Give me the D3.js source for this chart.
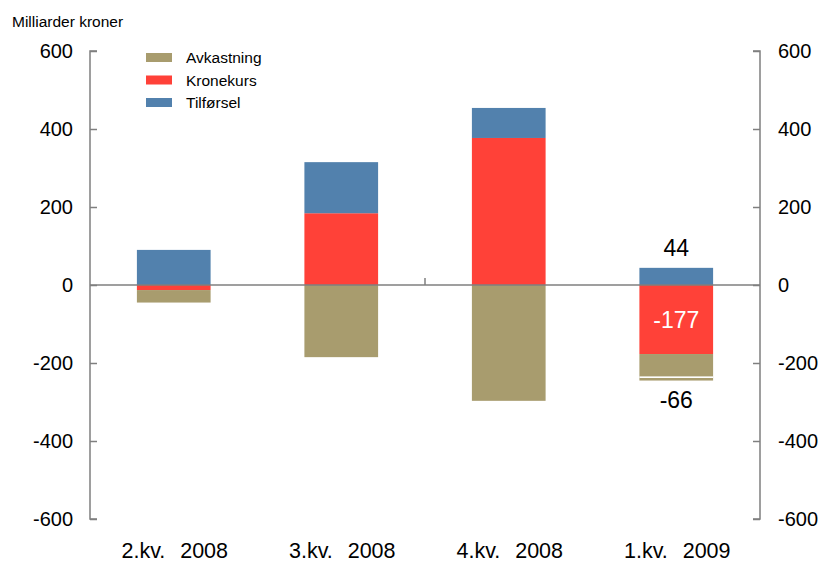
<!DOCTYPE html>
<html><head><meta charset="utf-8">
<script src="https://cdn.jsdelivr.net/npm/d3@7"></script>
<style>body{margin:0;background:#fff}svg{display:block;font-family:"Liberation Sans",Arial,sans-serif}</style>
</head><body><svg id="c" width="826" height="563"></svg>
<script>
const categories = ["2.kv.  2008","3.kv.  2008","4.kv.  2008","1.kv.  2009"];
const avkastning = [-32,-185,-297,-58];
const avkastningRest = [0,0,0,-10];
const kronekurs = [-13,184,377,-177];
const tilforsel = [90,131,77,44];
const yTicks = [-600,-400,-200,0,200,400,600];
const barLabels = [{cat:3, text:"44", pos:"top"},{cat:3,text:"-177",pos:"mid"},{cat:3,text:"-66",pos:"bottom"}];
const legendItems = ["Avkastning","Kronekurs","Tilførsel"];
const colors = {Avkastning:"#a89c6e", Kronekurs:"#ff4138", "Tilførsel":"#5281ad"};

const svg = d3.select("#c");
const L = 90, R = 760, T = 51, B = 519;
const x = d3.scaleBand().domain(categories).range([L,R]).paddingInner(0.56).paddingOuter(0.28);
const y = d3.scaleLinear().domain([-600,600]).range([B,T]);

const segs = [];
categories.forEach((c,i)=>{
  let pos = 0, neg = 0;
  const order = [["Kronekurs",kronekurs[i]],["Tilførsel",tilforsel[i]],["Avkastning",avkastning[i]],["Avkastning",avkastningRest[i]]];
  order.forEach(([k,v],j)=>{
    if(v===0) return;
    let y0,y1;
    if(v>0){y0=pos;y1=pos+v;pos=y1;} else {y0=neg;y1=neg+v;neg=y1;}
    segs.push({c,k,y0,y1,rest:j===3});
  });
});

svg.append("g").selectAll("rect").data(segs).join("rect")
  .attr("x",d=>x(d.c)).attr("width",x.bandwidth())
  .attr("y",d=>y(Math.max(d.y0,d.y1))).attr("height",d=>Math.abs(y(d.y0)-y(d.y1)))
  .attr("fill",d=>colors[d.k]);
svg.append("g").selectAll("line").data(segs.filter(d=>d.rest)).join("line")
  .attr("x1",d=>x(d.c)).attr("x2",d=>x(d.c)+x.bandwidth())
  .attr("y1",d=>y(d.y0)+0.6).attr("y2",d=>y(d.y0)+0.6)
  .attr("stroke","#fff").attr("stroke-width",1.3);

const axisColor = "#7f7f7f";
const la = svg.append("g").attr("transform",`translate(${L},0)`)
  .call(d3.axisRight(y).tickValues(yTicks).tickSize(7).tickFormat(""));
const ra = svg.append("g").attr("transform",`translate(${R},0)`)
  .call(d3.axisLeft(y).tickValues(yTicks).tickSize(7).tickFormat(""));
[la,ra].forEach(g=>{g.select(".domain").attr("stroke",axisColor).attr("stroke-width",1.5).attr("d",`M${g===la?7:-7},${T}H0V${B}H${g===la?7:-7}`);
  g.selectAll(".tick line").attr("stroke",axisColor).attr("stroke-width",1.5);});
svg.append("g").selectAll("text").data(yTicks).join("text")
  .attr("x",73).attr("y",d=>y(d)).attr("dy","0.36em").attr("text-anchor","end")
  .attr("font-size",20).attr("fill","#000").text(d=>d);
svg.append("g").selectAll("text").data(yTicks).join("text")
  .attr("x",778).attr("y",d=>y(d)).attr("dy","0.36em").attr("text-anchor","start")
  .attr("font-size",20).attr("fill","#000").text(d=>d);

svg.append("line").attr("x1",L).attr("x2",R).attr("y1",y(0)).attr("y2",y(0))
  .attr("stroke",axisColor).attr("stroke-width",1.5);
const midTick = (x(categories[1])+x.bandwidth()+x(categories[2]))/2;
svg.append("line").attr("x1",midTick).attr("x2",midTick).attr("y1",y(0)).attr("y2",y(0)-7)
  .attr("stroke",axisColor).attr("stroke-width",1.5);

svg.append("g").selectAll("text").data(categories).join("text")
  .attr("x",d=>x(d)+x.bandwidth()/2+1).attr("y",557.5).attr("text-anchor","middle")
  .attr("font-size",21.5).attr("word-spacing",1.5).attr("fill","#000").style("white-space","pre").attr("xml:space","preserve").text(d=>d);

svg.append("text").attr("x",12).attr("y",27).attr("font-size",15.5).attr("fill","#000").text("Milliarder kroner");

const lg = svg.append("g");
legendItems.forEach((k,i)=>{
  lg.append("rect").attr("x",146).attr("y",53+i*22.5).attr("width",26).attr("height",9).attr("fill",colors[k]);
  lg.append("text").attr("x",186).attr("y",57.5+i*22.5).attr("dy","0.36em").attr("font-size",15.5).attr("fill","#000").text(k);
});

const c3 = categories[3];
const cx = x(c3)+x.bandwidth()/2;
const topVal = kronekurs[3]>0?kronekurs[3]+tilforsel[3]:tilforsel[3];
const negBottom = Math.min(0,kronekurs[3])+avkastning[3]+avkastningRest[3];
barLabels.forEach(b=>{
  let yy, fill="#000";
  if(b.pos==="top") yy = y(topVal)-20;
  else if(b.pos==="mid"){ yy = y(kronekurs[3]/2); fill="#fff"; }
  else yy = y(negBottom)+19;
  svg.append("text").attr("x",cx).attr("y",yy).attr("dy","0.36em").attr("text-anchor","middle")
    .attr("font-size",23).attr("fill",fill).text(b.text);
});
</script></body></html>
